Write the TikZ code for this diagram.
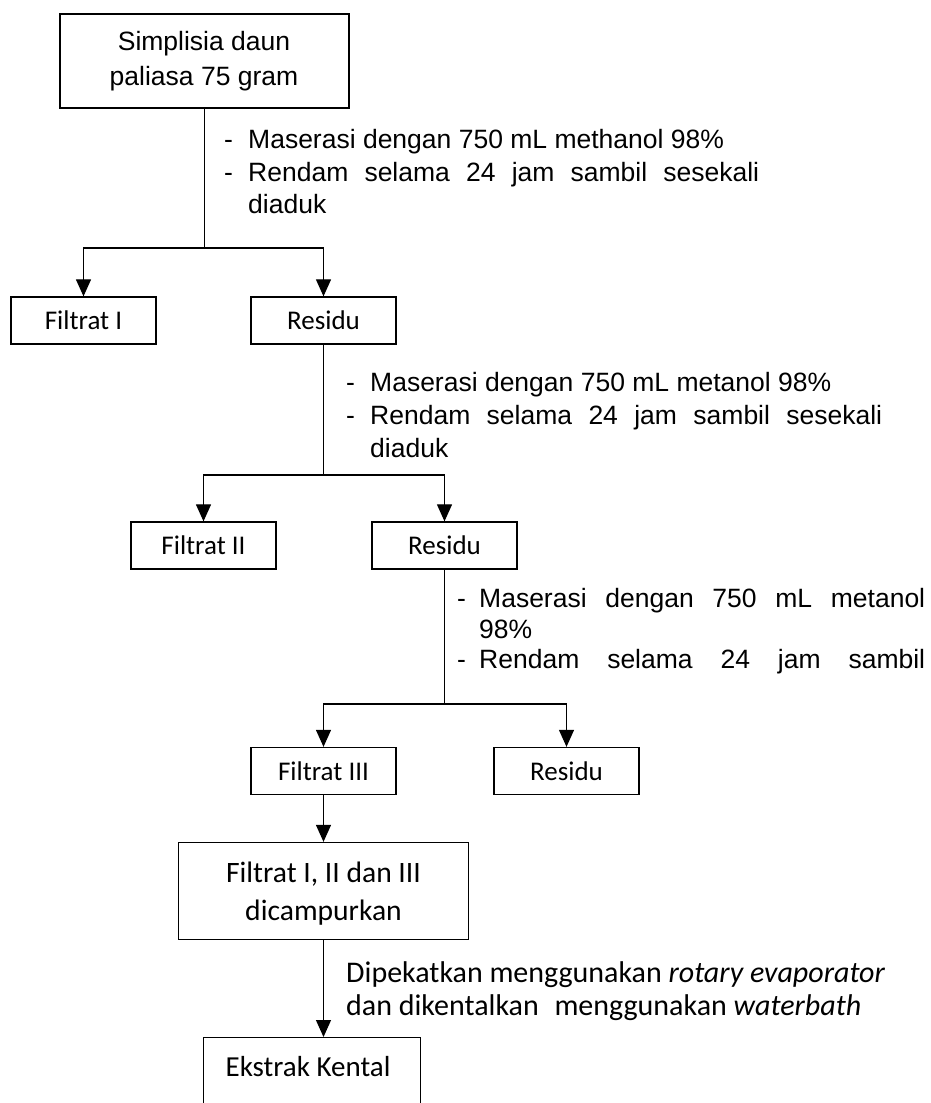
\documentclass[tikz,border=0pt]{standalone}
\usepackage{fontspec}
\setmainfont{Liberation Sans}
\newfontfamily\calplain{Carlito}
\usetikzlibrary{arrows.meta}
\newcommand{\artxt}{\fontsize{26.5}{33}\selectfont}
\newcommand{\toptxt}{\fontsize{26.5}{33}\selectfont}
\newcommand{\smalllab}{\calplain\fontsize{27}{30}\selectfont}
\newcommand{\mixlab}{\calplain\fontsize{29.6}{38}\selectfont}
\newcommand{\eklab}{\calplain\fontsize{29}{34}\selectfont}
\newcommand{\notelab}{\calplain\fontsize{30}{30}\selectfont}
\begin{document}
\begin{tikzpicture}[x=1pt,y=-1pt,
  box/.style={draw, line width=1.3pt, rectangle, inner sep=0pt, align=center},
  sbox/.style={box, minimum width=145pt, minimum height=47pt, font=\smalllab},
  conn/.style={line width=1.2pt},
  arr/.style={conn, -{Triangle[length=17pt,width=15pt]}},
  txt/.style={anchor=base west, inner sep=0pt, font=\artxt},
  ctxt/.style={anchor=base west, inner sep=0pt, font=\notelab}]
\useasboundingbox (0,0) rectangle (931,1103);

% boxes
\node[box, minimum width=289pt, minimum height=94pt] (top) at (204.5,61) {};
\node[inner sep=0pt, font=\toptxt, anchor=base] (toptxt1) at (204,50) {Simplisia daun};
\node[inner sep=0pt, font=\toptxt, anchor=base] (toptxt2) at (204,85) {paliasa 75 gram};
\node[sbox] (f1) at (83.5,320.5) {Filtrat I};
\node[sbox] (r1) at (323.5,320.5) {Residu};
\node[sbox] (f2) at (203.5,545.5) {Filtrat II};
\node[sbox] (r2) at (444.5,545.5) {Residu};
\node[sbox] (f3) at (323.5,771) {Filtrat III};
\node[sbox] (r3) at (566.5,771) {Residu};
\node[box, minimum width=290pt, minimum height=97pt] (mix) at (323.5,891) {};
\node[inner sep=0pt, font=\mixlab, anchor=base] (mixtxt1) at (323.5,882) {Filtrat I, II dan III};
\node[inner sep=0pt, font=\mixlab, anchor=base] (mixtxt2) at (323.5,920) {dicampurkan};
\node[box, minimum width=217pt, minimum height=90pt, anchor=north] (ek) at (312,1037) {};
\node[inner sep=0pt, font=\eklab, anchor=base] (ektxt) at (308,1076) {Ekstrak Kental};

% connectors
\coordinate (j1) at (204.5,248);
\draw[conn] (top.south) -- (j1);
\draw[arr] (j1) -| (f1.north);
\draw[arr] (j1) -| (r1.north);

\coordinate (j2) at (323.5,475);
\draw[conn] (r1.south) -- (j2);
\draw[arr] (j2) -| (f2.north);
\draw[arr] (j2) -| (r2.north);

\coordinate (j3) at (444.5,704);
\draw[conn] (r2.south) -- (j3);
\draw[arr] (j3) -| (f3.north);
\draw[arr] (j3) -| (r3.north);

\draw[arr] (f3.south) -- (mix.north);
\draw[arr] (mix.south) -- (mix.south |- ek.north);

% annotations
\node[txt] (d1a) at (224,148) {-};
\node[txt] (t1a) at (248,148) {Maserasi dengan 750 mL methanol 98\%};
\node[txt] (d1b) at (224,181) {-};
\node[txt] (t1b) at (248,181) {\makebox[511pt][s]{Rendam selama 24 jam sambil sesekali}};
\node[txt] (t1c) at (248,213) {diaduk};

\node[txt] (d2a) at (346,391) {-};
\node[txt] (t2a) at (370,391) {Maserasi dengan 750 mL metanol 98\%};
\node[txt] (d2b) at (346,424) {-};
\node[txt] (t2b) at (370,424) {\makebox[512pt][s]{Rendam selama 24 jam sambil sesekali}};
\node[txt] (t2c) at (370,457) {diaduk};

\node[txt] (d3a) at (457,607) {-};
\node[txt] (t3a) at (479,607) {\makebox[446pt][s]{Maserasi dengan 750 mL metanol}};
\node[txt] (t3b) at (479,638) {98\%};
\node[txt] (d3c) at (457,668) {-};
\node[txt] (t3c) at (479,668) {\makebox[446pt][s]{Rendam selama 24 jam sambil}};

\node[ctxt] (t4a) at (346,982) {Dipekatkan menggunakan \textit{rotary evaporator}};
\node[ctxt] (t4b) at (346,1015) {dan dikentalkan\hspace{0.3em} menggunakan \textit{waterbath}};
\end{tikzpicture}
\end{document}
